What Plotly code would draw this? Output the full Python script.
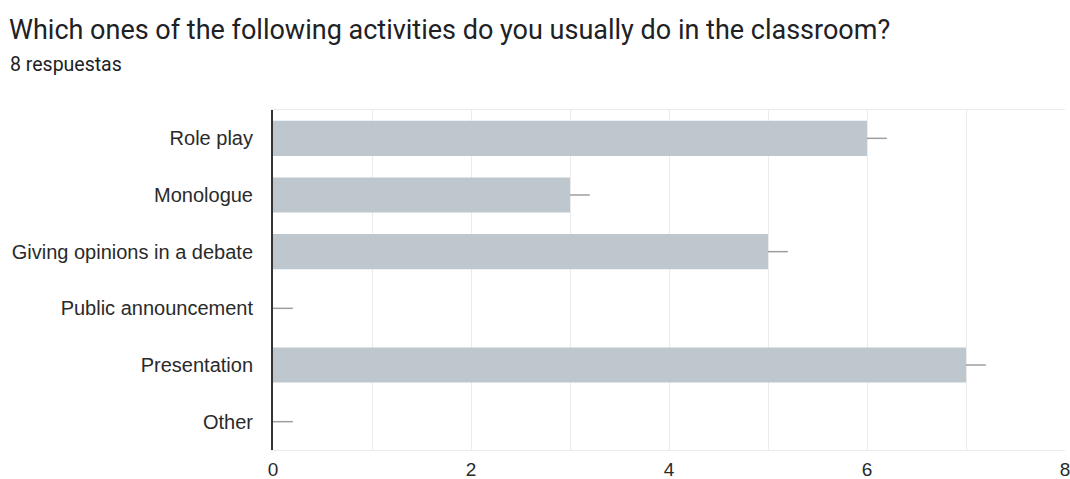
import plotly.graph_objects as go

# Survey responses (8 respondents)
activities = [
    "Role play",
    "Monologue",
    "Giving opinions in a debate",
    "Public announcement",
    "Presentation",
    "Other",
]
counts = [6, 3, 5, 0, 7, 0]
x_ticks = [0, 2, 4, 6, 8]

BAR_COLOR = "#bdc7cd"
GRID_COLOR = "#ebebeb"
TEXT_COLOR = "#2a2a2a"

fig = go.Figure(
    go.Bar(
        x=counts,
        y=activities,
        orientation="h",
        marker=dict(color=BAR_COLOR, line=dict(width=0)),
        error_x=dict(
            type="data",
            symmetric=False,
            array=[0.2] * len(counts),
            arrayminus=[0] * len(counts),
            color="#9e9e9e",
            thickness=1.5,
            width=0,
        ),
        hoverinfo="x+y",
    )
)

fig.update_layout(
    width=1070,
    height=479,
    margin=dict(l=273, r=5, t=110, b=29, autoexpand=False),
    paper_bgcolor="white",
    plot_bgcolor="white",
    bargap=0.38,
    showlegend=False,
    title=dict(
        text="Which ones of the following activities do you usually do in the classroom?",
        font=dict(family="Roboto", size=27, color="#202124"),
        x=9 / 1070,
        xanchor="left",
        xref="container",
        y=1 - 30 / 479,
        yanchor="middle",
        yref="container",
    ),
    annotations=[
        dict(
            text="8 respuestas",
            xref="paper",
            yref="paper",
            x=(8 - 273) / 792,
            y=1 + (110 - 64) / 340,
            xanchor="left",
            yanchor="middle",
            showarrow=False,
            font=dict(family="Roboto", size=19.5, color="#202124"),
        )
    ],
    xaxis=dict(
        range=[0, 8],
        tickvals=x_ticks,
        showgrid=True,
        gridcolor=GRID_COLOR,
        gridwidth=1,
        minor=dict(dtick=1, showgrid=True, gridcolor=GRID_COLOR, gridwidth=1),
        showline=True,
        linecolor=GRID_COLOR,
        linewidth=1,
        mirror=True,
        zeroline=False,
        automargin=False,
        ticklabeloverflow="allow",
        ticklabelstandoff=2,
        tickfont=dict(family="Liberation Sans, Arial", size=19, color=TEXT_COLOR),
        fixedrange=True,
    ),
    yaxis=dict(
        categoryorder="array",
        categoryarray=activities[::-1],
        showline=True,
        linecolor="#333333",
        linewidth=2,
        showgrid=False,
        ticks="",
        automargin=False,
        ticklabelstandoff=14,
        tickfont=dict(family="Liberation Sans, Arial", size=20, color=TEXT_COLOR),
        fixedrange=True,
    ),
)

fig.write_html("out.html")
